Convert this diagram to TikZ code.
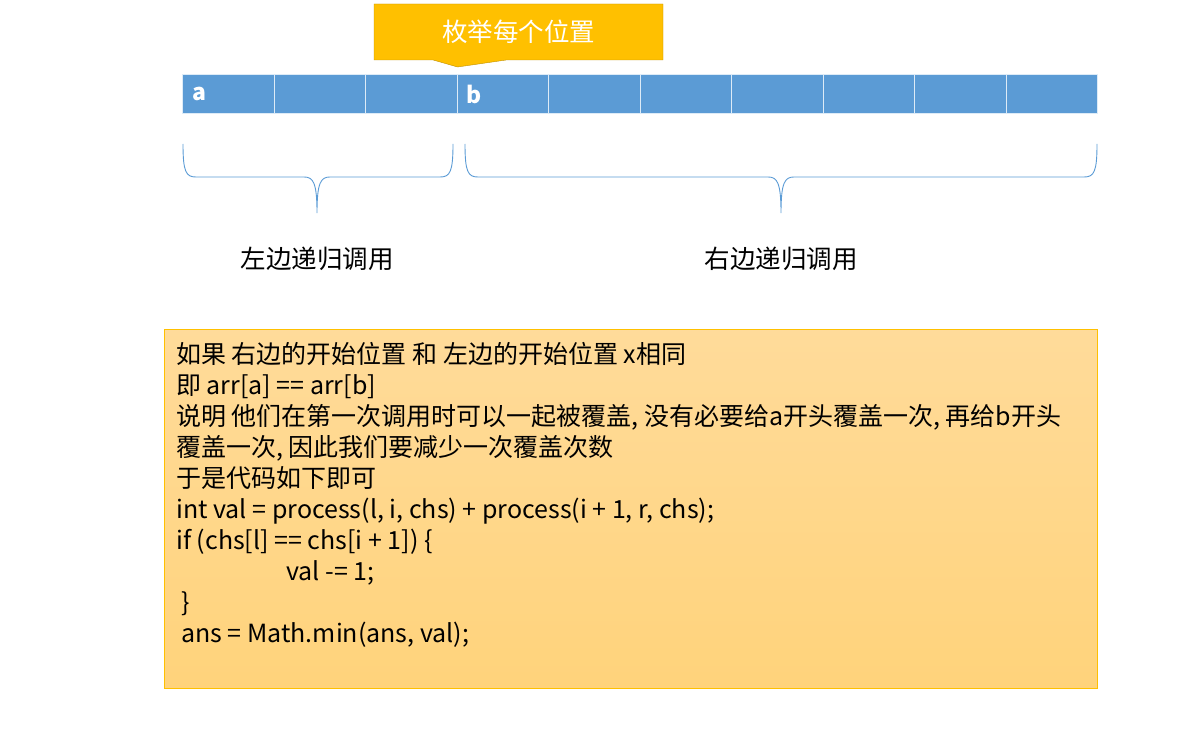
\documentclass[tikz,border=0pt]{standalone}
\usepackage{fontspec}
\setmainfont{Noto Sans CJK SC}
\usetikzlibrary{shapes.callouts,positioning,calc}
\definecolor{cellblue}{HTML}{5B9BD5}
\definecolor{celledge}{HTML}{DDEBF7}
\definecolor{gold}{HTML}{FFC000}
\definecolor{golddark}{HTML}{BF9000}
\definecolor{notetop}{HTML}{FFDB9A}
\definecolor{notebot}{HTML}{FFD37B}

\begin{document}
\begin{tikzpicture}[
    x=1pt, y=-1pt,
    cell/.style={rectangle, fill=cellblue, draw=celledge, line width=1pt, minimum width=91.5pt, minimum height=39pt, inner sep=0pt},
    idx/.style={text=white, font=\fontsize{23}{26}\selectfont\bfseries, inner sep=2pt},
    banner/.style={rectangle callout, fill=gold, draw=golddark, text=white, minimum width=289pt, minimum height=56pt, callout pointer width=73pt, font=\fontsize{25.5}{29}\selectfont},
    brace/.style={draw=cellblue, line width=0.9pt},
    caption/.style={font=\fontsize{25.5}{29}\selectfont, inner sep=3pt},
    note/.style={rectangle, draw=gold, line width=0.8pt, top color=notetop, bottom color=notebot, minimum width=933pt, minimum height=359pt, inner sep=0pt},
    code/.style={align=left, inner sep=0pt, font=\fontsize{25}{31}\selectfont}
  ]
    \useasboundingbox (0,0) rectangle (1201,743);

    % array cells
    \foreach \i in {0,...,9}
      \node[cell, anchor=north west] (c\i) at (182+91.5*\i,74) {};
    \node[idx, right=8pt of c0.west] (ia) {a};
    \node[idx, right=8pt of c3.west] (ib) {b};

    % banner on top
    \node[banner, callout absolute pointer={($(c3.north west)+(1,-7)$)}] (title) at (518.5,32) {枚举每个位置};

    % braces
    \coordinate (ltip) at (317,213);
    \coordinate (rtip) at (781,213);
    \draw[brace] (183,144) .. controls (183,172) and (186,177) .. (196,177) -- (304,177)
      .. controls (313,177) and (317,182) .. (ltip)
      .. controls (317,182) and (321,177) .. (330,177) -- (440,177)
      .. controls (450,177) and (453,172) .. (453,144);
    \draw[brace] (465,144) .. controls (465,172) and (468,177) .. (478,177) -- (768,177)
      .. controls (777,177) and (781,182) .. (rtip)
      .. controls (781,182) and (785,177) .. (794,177) -- (1084,177)
      .. controls (1094,177) and (1097,172) .. (1097,144);
    \node[caption, below=31pt of ltip] (lcall) {左边递归调用};
    \node[caption, below=31pt of rtip] (rcall) {右边递归调用};

    % note
    \node[note, anchor=north west] (box) at (164,329) {};
    \node[code, anchor=north west] (txt) at ($(box.north west)+(12,13)$) {%
      如果 右边的开始位置 和 左边的开始位置 x相同\\
      即 arr[a] == arr[b]\\
      说明 他们在第一次调用时可以一起被覆盖, 没有必要给a开头覆盖一次, 再给b开头\\
      覆盖一次, 因此我们要减少一次覆盖次数\\
      于是代码如下即可\\
      int val = process(l, i, chs) + process(i + 1, r, chs);\\
      if (chs[l] == chs[i + 1]) \{\\
      \hspace*{110pt}val -= 1;\\
      \hspace*{5pt}\}\\
      \hspace*{5pt}ans = Math.min(ans, val);};
  \end{tikzpicture}
\end{document}
